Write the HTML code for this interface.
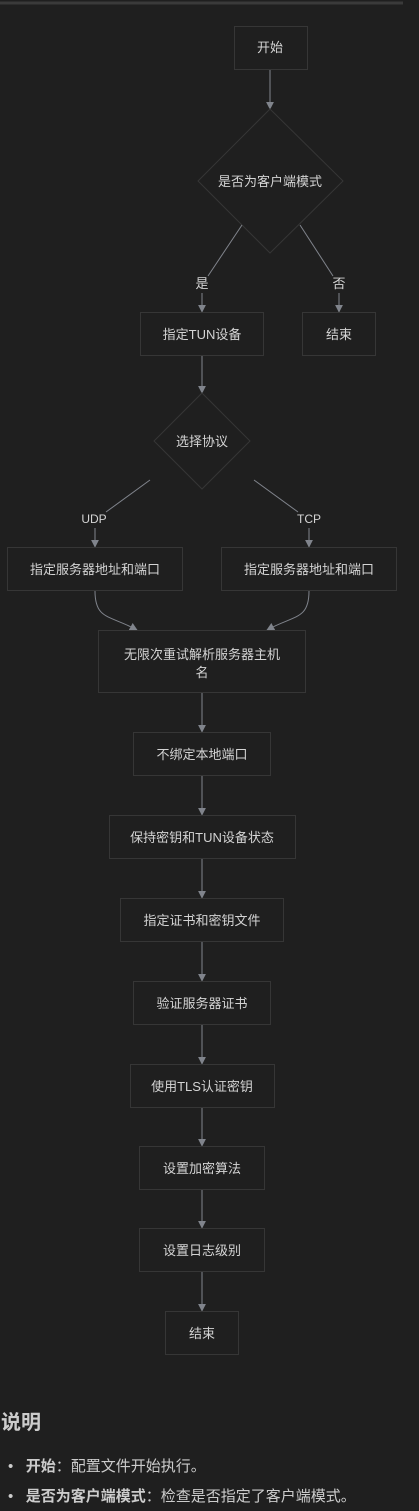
<!DOCTYPE html>
<html><head><meta charset="utf-8"><style>
html,body{margin:0;padding:0;background:#1f1f1f;width:419px;height:1511px;overflow:hidden}
svg{position:absolute;left:0;top:0}
text{font-family:"Liberation Sans","Noto Sans CJK SC",sans-serif;font-size:13px;fill:#d4d4d4}
.n{fill:#1f1f1f;stroke:#363636;stroke-width:1}
.l{stroke:#80848c;stroke-width:1;fill:none}
.doc{position:absolute;left:0;font-family:"Liberation Sans","Noto Sans CJK SC",sans-serif;color:#cccccc}
</style></head><body>
<svg width="419" height="1400" viewBox="0 0 419 1400">
<defs>
<marker id="b" viewBox="0 0 10 10" refX="9" refY="5" markerWidth="8" markerHeight="8" orient="auto" markerUnits="userSpaceOnUse"><path d="M0,0 L10,5 L0,10 z" fill="#80848c"/></marker></defs>
<line x1="0" y1="3" x2="403" y2="3" stroke="#3a3a3a" stroke-width="3"/>
<rect class="n" x="234.5" y="26.5" width="73" height="43"/><text x="270" y="52" text-anchor="middle">开始</text>
<line class="l" x1="270" y1="70" x2="270" y2="109" marker-end="url(#b)"/>
<polygon class="n" points="270,109 343,181 270,253 198,181"/><text x="270" y="186" text-anchor="middle">是否为客户端模式</text>
<line class="l" x1="242" y1="225" x2="208" y2="276"/><text x="202" y="288" text-anchor="middle">是</text>
<line class="l" x1="202" y1="293" x2="202" y2="312" marker-end="url(#b)"/>
<line class="l" x1="300" y1="225" x2="333" y2="276"/><text x="339" y="288" text-anchor="middle">否</text>
<line class="l" x1="339" y1="293" x2="339" y2="312" marker-end="url(#b)"/>
<rect class="n" x="140.5" y="312.5" width="123" height="43"/><text x="202" y="339" text-anchor="middle">指定TUN设备</text>
<rect class="n" x="302.5" y="312.5" width="73" height="43"/><text x="339" y="339" text-anchor="middle">结束</text>
<line class="l" x1="202" y1="356" x2="202" y2="393" marker-end="url(#b)"/>
<polygon class="n" points="202,393 250,441 202,489 154,441"/><text x="202" y="446" text-anchor="middle">选择协议</text>
<line class="l" x1="150" y1="480" x2="106" y2="512"/><text x="94" y="523" text-anchor="middle" style="font-size:12px">UDP</text>
<line class="l" x1="95" y1="528" x2="95" y2="547" marker-end="url(#b)"/>
<line class="l" x1="254" y1="480" x2="298" y2="512"/><text x="309" y="523" text-anchor="middle" style="font-size:12px">TCP</text>
<line class="l" x1="309" y1="528" x2="309" y2="547" marker-end="url(#b)"/>
<rect class="n" x="7.5" y="547.5" width="175" height="43"/><text x="95" y="574" text-anchor="middle">指定服务器地址和端口</text>
<rect class="n" x="221.5" y="547.5" width="175" height="43"/><text x="309" y="574" text-anchor="middle">指定服务器地址和端口</text>
<path class="l" d="M95,591 C95,620 110,615 137,630" marker-end="url(#b)"/>
<path class="l" d="M309,591 C309,620 294,615 267,630" marker-end="url(#b)"/>
<rect class="n" x="98.5" y="630.5" width="207" height="62"/><text x="202" y="659" text-anchor="middle">无限次重试解析服务器主机</text><text x="202" y="677" text-anchor="middle">名</text>
<line class="l" x1="202" y1="693" x2="202" y2="732" marker-end="url(#b)"/>
<rect class="n" x="133.5" y="732.5" width="137" height="43"/><text x="202" y="759" text-anchor="middle">不绑定本地端口</text>
<line class="l" x1="202" y1="776" x2="202" y2="815" marker-end="url(#b)"/>
<rect class="n" x="109.5" y="815.5" width="186" height="43"/><text x="202" y="842" text-anchor="middle">保持密钥和TUN设备状态</text>
<line class="l" x1="202" y1="859" x2="202" y2="898" marker-end="url(#b)"/>
<rect class="n" x="120.5" y="898.5" width="163" height="43"/><text x="202" y="925" text-anchor="middle">指定证书和密钥文件</text>
<line class="l" x1="202" y1="942" x2="202" y2="981" marker-end="url(#b)"/>
<rect class="n" x="133.5" y="981.5" width="137" height="43"/><text x="202" y="1008" text-anchor="middle">验证服务器证书</text>
<line class="l" x1="202" y1="1025" x2="202" y2="1064" marker-end="url(#b)"/>
<rect class="n" x="130.5" y="1064.5" width="144" height="43"/><text x="202" y="1091" text-anchor="middle">使用TLS认证密钥</text>
<line class="l" x1="202" y1="1108" x2="202" y2="1146" marker-end="url(#b)"/>
<rect class="n" x="139.5" y="1146.5" width="125" height="43"/><text x="202" y="1173" text-anchor="middle">设置加密算法</text>
<line class="l" x1="202" y1="1190" x2="202" y2="1228" marker-end="url(#b)"/>
<rect class="n" x="139.5" y="1228.5" width="125" height="43"/><text x="202" y="1255" text-anchor="middle">设置日志级别</text>
<line class="l" x1="202" y1="1272" x2="202" y2="1311" marker-end="url(#b)"/>
<rect class="n" x="165.5" y="1311.5" width="73" height="43"/><text x="202" y="1338" text-anchor="middle">结束</text>
</svg>
<div class="doc" style="top:1410px;left:1px;font-size:20px;font-weight:bold;line-height:26px">说明</div>
<div class="doc" style="top:1456px;left:8px;font-size:15px;line-height:22px">•&nbsp;&nbsp;&nbsp;<b>开始</b>：配置文件开始执行。</div>
<div class="doc" style="top:1486px;left:8px;font-size:15px;line-height:22px">•&nbsp;&nbsp;&nbsp;<b>是否为客户端模式</b>：检查是否指定了客户端模式。</div>
</body></html>
